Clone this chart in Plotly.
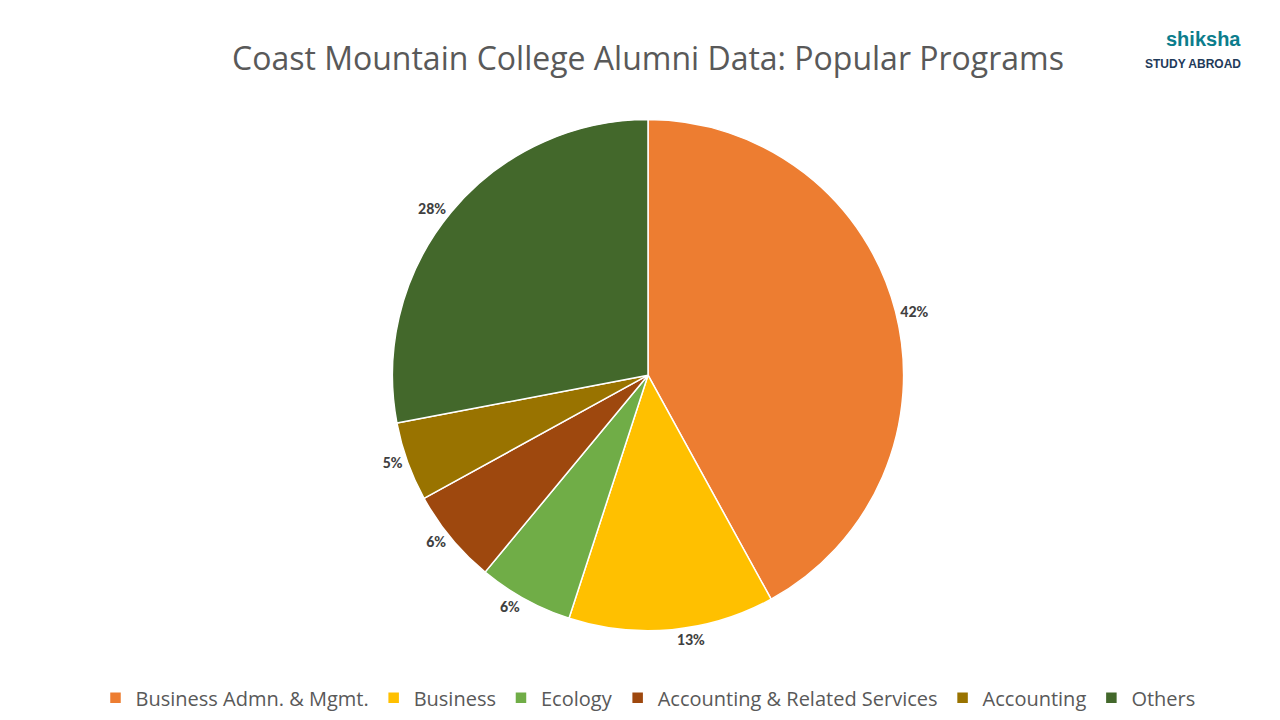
import plotly.graph_objects as go

labels = ["Business Admn. & Mgmt.", "Business", "Ecology", "Accounting & Related Services", "Accounting", "Others"]
values = [42, 13, 6, 6, 5, 28]
colors = ["#ED7D31", "#FFC000", "#70AD47", "#9E480E", "#997300", "#43682B"]

fig = go.Figure(go.Pie(
    labels=labels, values=values, sort=False, direction="clockwise", rotation=0,
    marker=dict(colors=colors, line=dict(color="white", width=1.5)),
    texttemplate="<b>%{percent:.0%}</b>", textposition="outside",
    textfont=dict(size=16, color="#404040", family="Calibri, Carlito, Liberation Sans, sans-serif"),
    outsidetextfont=dict(size=16, color="#404040"),
    domain=dict(x=[0.29, 0.71], y=[0.135, 0.845]),
    showlegend=True,
))
fig.update_layout(
    width=1280, height=720, paper_bgcolor="white", plot_bgcolor="white",
    margin=dict(l=0, r=0, t=0, b=0),
    title=dict(text="Coast Mountain College Alumni Data: Popular Programs", x=0.5, y=0.945, xanchor="center",
               font=dict(size=32, color="#595959", family="Open Sans, sans-serif")),
    legend=dict(orientation="h", x=0.5, xanchor="center", y=0.015, yanchor="bottom",
                font=dict(size=20, color="#595959", family="Open Sans, sans-serif"), traceorder="normal"),
    annotations=[
        dict(text="<b>shiksha</b>", x=0.965, y=0.975, xref="paper", yref="paper", showarrow=False,
             font=dict(size=20, color="#0C7D8C", family="Liberation Sans"), xanchor="right"),
        dict(text="<b>STUDY ABROAD</b>", x=0.965, y=0.935, xref="paper", yref="paper", showarrow=False,
             font=dict(size=12, color="#1F3B5A", family="Liberation Sans Narrow, Liberation Sans"), xanchor="right"),
    ],
)
fig.write_html("out.html")
